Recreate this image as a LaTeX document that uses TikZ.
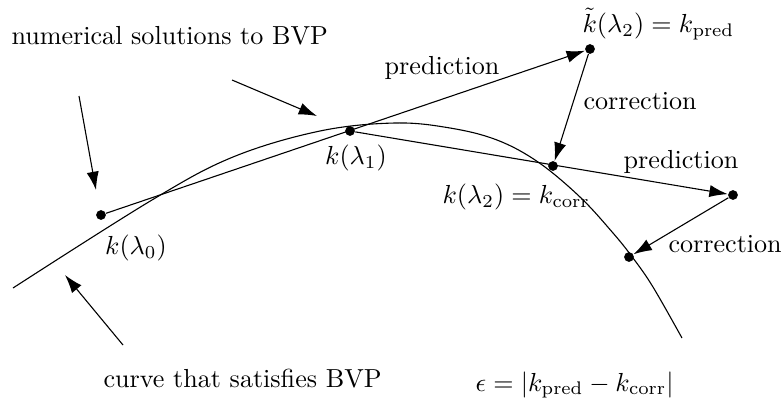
\documentclass[tikz,border=0pt]{standalone}
\usetikzlibrary{arrows.meta}
\begin{document}
\begin{tikzpicture}[x=0.41pt,y=-0.41pt,
  dot/.style={circle,fill=black,inner sep=0pt,minimum size=4pt},
  arr/.style={-{Latex[length=7.5pt,width=5pt]},line width=0.45pt},
  lbl/.style={inner sep=0pt,scale=1.07}]
\useasboundingbox (0,0) rectangle (782,401);
% curve
\draw[line width=0.45pt] plot[smooth,tension=0.6] coordinates
  {(13,288) (152,200) (233,157) (320,131) (395,123) (450,128) (497,140) (538,162) (580,197) (613,233) (633,258) (653,287) (682,338)};
% points
\node[dot] (p0) at (101,215) {};
\node[dot] (p1) at (350,131) {};
\node[dot] (p2t) at (590,49) {};
\node[dot] (p2) at (553,166) {};
\node[dot] (p3t) at (733,195) {};
\node[dot] (p3) at (629,257) {};
% predictions and corrections
\draw[arr] (p0) -- (p2t);
\draw[arr] (p1) -- (p3t);
\draw[arr] (p2t) -- (p2);
\draw[arr] (p3t) -- (p3);
% pointer arrows
\coordinate (a1s) at (79,96);
\coordinate (a1e) at (96,190);
\coordinate (a2s) at (232,80);
\coordinate (a2e) at (317,116);
\coordinate (a3s) at (123,345);
\coordinate (a3e) at (65,275);
\draw[arr] (a1s) -- (a1e);
\draw[arr] (a2s) -- (a2e);
\draw[arr] (a3s) -- (a3e);
% labels
\node[lbl,anchor=west] (tnum) at (11,36) {numerical solutions to BVP};
\node[lbl,anchor=west] (tcurve) at (103,379) {curve that satisfies BVP};
\node[lbl,anchor=west] (teps) at (475,385) {$\epsilon=|k_{\mathrm{pred}}-k_{\mathrm{corr}}|$};
\node[lbl,anchor=west] (tk2t) at (582,24) {$\tilde k(\lambda_2)=k_{\mathrm{pred}}$};
\node[lbl] (tpred1) at (442,68) {prediction};
\node[lbl,anchor=west] (tcorr1) at (583,101) {correction};
\node[lbl] (tpred2) at (681,162) {prediction};
\node[lbl,anchor=west] (tcorr2) at (668,244) {correction};
\node[lbl] (tk0) at (136,248) {$k(\lambda_0)$};
\node[lbl] (tk1) at (356,158) {$k(\lambda_1)$};
\node[lbl,anchor=west] (tk2) at (442,197) {$k(\lambda_2)=k_{\mathrm{corr}}$};
\end{tikzpicture}
\end{document}
